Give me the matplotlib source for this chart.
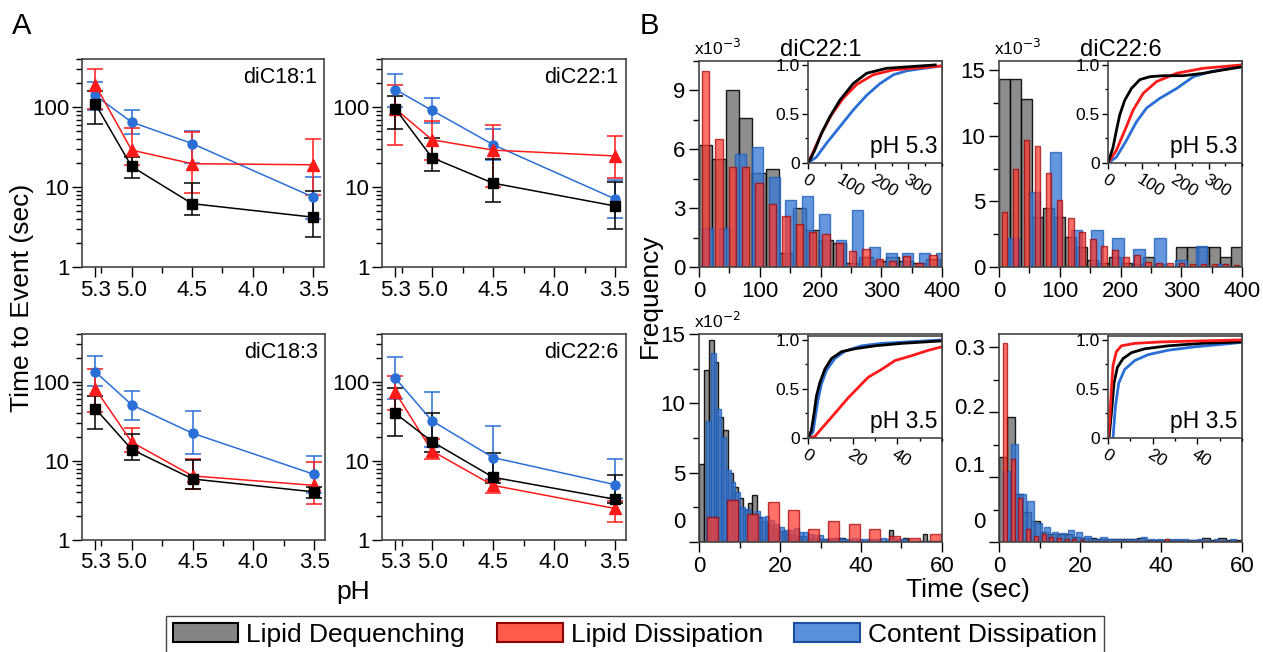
import numpy as np
import matplotlib
matplotlib.use('Agg')
import matplotlib.pyplot as plt
import matplotlib.transforms as mtransforms
from matplotlib.ticker import MultipleLocator, FixedLocator, LogLocator, NullFormatter
from matplotlib.patches import Patch

plt.rcParams['font.family'] = ['Liberation Sans', 'DejaVu Sans']
plt.rcParams['axes.edgecolor'] = '#444444'
plt.rcParams['axes.linewidth'] = 1.2

# ---------------- panel A data (time to event, sec) ----------------
ph = [5.3, 5.0, 4.5, 3.5]

c181_deq = [110, 18.1, 6.2, 4.2]
c181_deq_lo = [62, 12.9, 4.5, 2.4]
c181_deq_hi = [160, 23.5, 11.2, 8.9]
c181_dis = [190, 29, 19.6, 19]
c181_dis_lo = [95, 18.7, 8.4, 7.9]
c181_dis_hi = [300, 55, 49, 40]
c181_con = [140, 65, 35, 7.5]
c181_con_lo = [91, 45.6, 20, 4.0]
c181_con_hi = [205, 91, 50, 13.3]

c221_deq = [95, 23.3, 11.2, 5.8]
c221_deq_lo = [54, 15.8, 6.5, 3.0]
c221_deq_hi = [136, 41, 22.6, 11.6]
c221_dis = [95, 39, 29, 24.5]
c221_dis_lo = [34, 22, 10, 12.9]
c221_dis_hi = [190, 67, 60, 43.6]
c221_con = [166, 91, 34, 7.1]
c221_con_lo = [100, 63, 22, 4.1]
c221_con_hi = [260, 130, 54, 12.2]

c183_deq = [45.6, 13.9, 5.9, 4.05]
c183_deq_lo = [25, 10.3, 4.4, 3.4]
c183_deq_hi = [66, 22, 10.3, 4.7]
c183_dis = [81, 17.2, 6.45, 4.9]
c183_dis_lo = [41.7, 13, 4.4, 2.84]
c183_dis_hi = [144, 26, 10.5, 9.6]
c183_con = [133, 51, 22.3, 6.75]
c183_con_lo = [88, 32.6, 12.2, 3.9]
c183_con_hi = [209, 76, 42.7, 11.6]

c226_deq = [39.7, 17.5, 6.2, 3.27]
c226_deq_lo = [20.7, 13, 5.2, 2.9]
c226_deq_hi = [84, 40, 12.6, 6.6]
c226_dis = [73, 13.3, 4.9, 2.5]
c226_dis_lo = [43.6, 10.6, 3.9, 1.67]
c226_dis_hi = [118, 18.8, 5.8, 3.15]
c226_con = [110, 32, 11, 5]
c226_con_lo = [60, 14.9, 5.9, 3.4]
c226_con_hi = [203, 73, 27.4, 10.6]

# ---------------- panel B data: histograms (bin start, bin width, heights) ----------------
# diC22:1 pH 5.3 (x10^-3)
h221_53_deq = [6.2, 5.5, 9.0, 7.6, 4.8, 5.0, 0.7, 3.0, 1.9, 1.4, 1.2, 0.2, 0.5, 0.3, 0.5, 0.3, 0.2, 0.4]
h221_53_dis = [10.0, 6.5, 5.1, 5.1, 4.3, 3.2, 2.6, 2.2, 1.8, 1.7, 1.2, 0.8, 0.9, 0.4, 0.3, 0.55, 0.2, 0.6]
h221_53_con = [2.0, 2.0, 5.75, 6.1, 4.6, 3.4, 3.6, 2.7, 1.4, 2.9, 1.0, 0.7, 0.7, 0.7, 0.7]
# diC22:6 pH 5.3 (x10^-3)
h226_53_deq = [14.3, 14.3, 12.8, 3.8, 4.5, 3.8, 2.3, 1.5, 0.5, 0.3, 0.8, 0.3, 0.2, 0.8, 0.2, 0.0,
               1.5, 1.5, 1.5, 1.5, 0.8, 1.5]
h226_53_dis = [4.2, 7.5, 9.7, 9.25, 7.2, 5.1, 3.7, 2.7, 2.1, 1.6, 1.3, 0.8, 0.9, 0.4, 0.3, 0.3,
               0.3, 0.25, 0.25, 0.2, 0.2, 0.15]
h226_53_con = [2.2, 5.75, 8.8, 2.8, 2.8, 2.2, 1.4, 2.2, 0.55, 1.6, 0.2]
# diC22:1 pH 3.5 (x10^-2)
h221_35_deq = [5.6, 12.4, 14.6, 13.0, 9.0, 8.1, 5.0, 4.0, 3.2, 2.3, 2.8, 3.4, 1.8, 1.5, 1.2, 1.0,
               0.8, 0.8, 0.6, 0.5, 0.4, 0.4, 0.3, 0.3, 0.2, 0.2, 0.2, 0.2, 0.3, 0.3, 0.1, 0.1,
               0.1, 0.1, 0.1, 0.1, 0.1, 0.1, 0.1, 0.9, 0.1, 0.0, 0.3, 0.1, 0.1, 0.1, 0.6, 0.1,
               0.1, 0.1]
h221_35_dis = [1.8, 3.0, 2.05, 2.9, 2.3, 0.96, 1.5, 1.28, 0.96, 0.4, 0.3, 0.6]
h221_35_con = [0.0, 8.7, 13.6, 9.6, 7.6, 5.2, 4.3, 3.6, 2.5, 2.4, 2.0, 2.2, 1.8, 1.9, 1.6, 1.3,
               1.1, 0.85, 0.9, 1.0, 0.7, 0.7, 0.6, 0.5, 0.5, 0.25, 0.3, 0.3, 0.3, 0.25, 0.25,
               0.3, 0.25, 0.2, 0.25, 0.2, 0.2, 0.3, 0.2, 0.3, 0.2, 0.2, 0.1, 0.1, 0.1, 0.1,
               0.1, 0.1, 0.1]
# diC22:6 pH 3.5
h226_35_deq = [0.131, 0.193, 0.074, 0.046, 0.033, 0.015, 0.012, 0.012, 0.012, 0.008, 0.006,
               0.006, 0.004, 0.004, 0.004, 0.004, 0.004, 0.006, 0.003, 0.003, 0.003, 0.003,
               0.003, 0.003, 0.003, 0.006, 0.003, 0.006, 0.003, 0.003]
h226_35_dis = [0.306, 0.128, 0.067, 0.02, 0.01, 0.012, 0.008, 0.006, 0.005, 0.004, 0.003, 0.002,
               0.002, 0.002, 0.002, 0.002, 0.002, 0.002, 0.002, 0.002, 0.002, 0.004, 0.002,
               0.002, 0.002, 0.002, 0.002, 0.002, 0.002, 0.002, 0.002]
h226_35_con = [0.11, 0.151, 0.074, 0.063, 0.03, 0.023, 0.015, 0.014, 0.018, 0.016, 0.01, 0.005,
               0.008, 0.005, 0.005, 0.005, 0.004, 0.008, 0.004, 0.004, 0.004, 0.004, 0.004,
               0.003, 0.004, 0.003, 0.004, 0.003, 0.004]

# ---------------- cumulative distributions for the insets ----------------
cdf221_53_deq_t = [0, 10, 20, 40, 65, 95, 135, 175, 235, 295, 380]
cdf221_53_deq_f = [0, 0.06, 0.13, 0.30, 0.47, 0.64, 0.81, 0.915, 0.966, 0.98, 1.0]
cdf221_53_dis_t = [0, 15, 40, 70, 105, 145, 195, 255, 330, 400]
cdf221_53_dis_f = [0, 0.11, 0.30, 0.49, 0.66, 0.80, 0.90, 0.95, 0.97, 0.99]
cdf221_53_con_t = [0, 25, 55, 95, 135, 175, 215, 255, 295, 355, 400]
cdf221_53_con_f = [0, 0.06, 0.20, 0.37, 0.54, 0.69, 0.81, 0.90, 0.94, 0.97, 0.99]

cdf226_53_deq_t = [0, 15, 25, 35, 50, 70, 95, 125, 165, 225, 285, 345, 400]
cdf226_53_deq_f = [0, 0.16, 0.33, 0.49, 0.64, 0.76, 0.85, 0.88, 0.89, 0.89, 0.915, 0.95, 0.98]
cdf226_53_dis_t = [0, 25, 50, 75, 105, 145, 205, 285, 400]
cdf226_53_dis_f = [0, 0.13, 0.33, 0.54, 0.71, 0.83, 0.915, 0.966, 1.0]
cdf226_53_con_t = [0, 25, 55, 85, 115, 155, 205, 255, 305, 355, 400]
cdf226_53_con_f = [0, 0.06, 0.23, 0.42, 0.56, 0.66, 0.76, 0.88, 0.93, 0.96, 1.0]

cdf221_35_deq_t = [0, 1.5, 2.7, 3.75, 5.25, 7.5, 10.5, 15, 21, 30, 42, 60]
cdf221_35_deq_f = [0, 0.077, 0.25, 0.425, 0.56, 0.70, 0.81, 0.88, 0.91, 0.94, 0.965, 0.99]
cdf221_35_dis_t = [0, 3, 6, 12, 18, 24, 27, 33, 39, 46.5, 54, 60]
cdf221_35_dis_f = [0, 0.014, 0.094, 0.25, 0.41, 0.55, 0.62, 0.70, 0.79, 0.84, 0.895, 0.93]
cdf221_35_con_t = [0, 2.25, 3.3, 4.5, 6, 8.25, 12, 16.5, 24, 33, 60]
cdf221_35_con_f = [0, 0.06, 0.22, 0.39, 0.55, 0.69, 0.81, 0.885, 0.94, 0.965, 1.0]

cdf226_35_deq_t = [0.45, 1.5, 2.7, 4.2, 6.75, 10.5, 16.5, 27, 42, 60]
cdf226_35_deq_f = [0, 0.25, 0.56, 0.72, 0.81, 0.87, 0.91, 0.94, 0.965, 0.98]
cdf226_35_dis_t = [0, 0.75, 1.5, 2.25, 3.75, 6, 12, 24, 60]
cdf226_35_dis_f = [0, 0.18, 0.49, 0.74, 0.88, 0.94, 0.965, 0.98, 1.0]
cdf226_35_con_t = [2.25, 3.3, 4.8, 7.5, 12, 18, 27, 39, 51, 60]
cdf226_35_con_f = [0, 0.32, 0.56, 0.70, 0.79, 0.85, 0.895, 0.93, 0.955, 0.975]

RED = '#ff1a1a'
BLUE = '#2a6fd6'
W, H = 1263, 652

fig = plt.figure(figsize=(W / 100, H / 100), dpi=100)


def rect(left, top, right, bottom):
    return [left / W, 1 - bottom / H, (right - left) / W, (bottom - top) / H]


def panel_a(r, name, deq, dis, con):
    ax = fig.add_axes(r)
    series = [(con, BLUE, 'o', 6.5), (dis, RED, '^', 8), (deq, 'black', 's', 6.5)]
    for (v, lo, hi), col, mk, ms in series:
        v = np.array(v, float)
        err = [v - np.array(lo), np.array(hi) - v]
        ax.errorbar(ph, v, yerr=err, color=col, marker=mk, ms=ms, lw=1.1,
                    elinewidth=1.1, capsize=5.5, capthick=1.1)
    ax.set_yscale('log')
    ax.set_ylim(1, 400)
    ax.set_xlim(5.41, 3.41)
    ax.yaxis.set_major_locator(FixedLocator([1, 10, 100]))
    ax.set_yticklabels(['1', '10', '100'])
    ax.yaxis.set_minor_locator(LogLocator(base=10, subs=np.arange(2, 10)))
    ax.yaxis.set_minor_formatter(NullFormatter())
    ax.set_xticks([5.3, 5.0, 4.5, 4.0, 3.5])
    ax.set_xticklabels(['5.3', '5.0', '4.5', '4.0', '3.5'])
    ax.xaxis.set_minor_locator(MultipleLocator(0.25))
    ax.tick_params(which='major', direction='out', length=7, width=1, labelsize=16, pad=2)
    ax.tick_params(which='minor', direction='out', length=4, width=1)
    ax.text(0.97, 0.96, name, transform=ax.transAxes, ha='right', va='top', fontsize=15.5)
    return ax


panel_a(rect(82, 59, 324, 267), 'diC18:1',
        (c181_deq, c181_deq_lo, c181_deq_hi), (c181_dis, c181_dis_lo, c181_dis_hi),
        (c181_con, c181_con_lo, c181_con_hi))
panel_a(rect(382, 59, 626, 267), 'diC22:1',
        (c221_deq, c221_deq_lo, c221_deq_hi), (c221_dis, c221_dis_lo, c221_dis_hi),
        (c221_con, c221_con_lo, c221_con_hi))
panel_a(rect(82, 334, 325, 540), 'diC18:3',
        (c183_deq, c183_deq_lo, c183_deq_hi), (c183_dis, c183_dis_lo, c183_dis_hi),
        (c183_con, c183_con_lo, c183_con_hi))
panel_a(rect(382, 334, 626, 540), 'diC22:6',
        (c226_deq, c226_deq_lo, c226_deq_hi), (c226_dis, c226_dis_lo, c226_dis_hi),
        (c226_con, c226_con_lo, c226_con_hi))

GRAY_STYLE = dict(facecolor='#7d7d7d', edgecolor='black', alpha=0.88, linewidth=1.0)
RED_STYLE = dict(facecolor='#ff3a2e', edgecolor='#a00000', alpha=0.72, linewidth=1.0)
BLUE_STYLE = dict(facecolor='#3a7ad6', edgecolor='#1d5cb8', alpha=0.78, linewidth=1.0)


def bars(ax, start, width, heights, barw, style):
    centers = start + width * (np.arange(len(heights)) + 0.5)
    ax.bar(centers, heights, width=barw, align='center', **style)


def hist_panel(r, hists, ylim, ymaj, ymin, xlim, xmaj, xmin, exp, title=None, label_shift=None):
    ax = fig.add_axes(r)
    for start, width, heights, barw, style in hists:
        bars(ax, start, width, heights, barw, style)
    ax.set_xlim(*xlim)
    ax.set_ylim(*ylim)
    ax.set_xticks(xmaj)
    ax.set_xticklabels([str(v) for v in xmaj])
    ax.xaxis.set_minor_locator(MultipleLocator(xmin))
    ax.set_yticks(ymaj[0])
    ax.set_yticklabels(ymaj[1])
    ax.yaxis.set_minor_locator(MultipleLocator(ymin))
    ax.tick_params(which='major', direction='out', length=7, width=1, labelsize=16, pad=3)
    ax.tick_params(which='minor', direction='out', length=4, width=1)
    ax.text(-0.02, 1.015, exp, transform=ax.transAxes, ha='left', va='bottom', fontsize=12.5)
    if title:
        ax.set_title(title, fontsize=17, pad=3)
    if label_shift:
        for lab, dy in zip(ax.get_yticklabels(), label_shift):
            lab.set_transform(lab.get_transform() +
                              mtransforms.ScaledTranslation(0, dy / 100, fig.dpi_scale_trans))
    return ax


def inset(r, curves, xlim, xmaj, xmin, text):
    ax = fig.add_axes(r)
    ax.set_facecolor('white')
    for t, f, col in curves:
        ax.plot(t, f, color=col, lw=2.0)
    ax.set_xlim(*xlim)
    ax.set_ylim(0, 1.04)
    ax.set_yticks([0, 0.5, 1.0])
    ax.set_yticklabels(['0', '0.5', '1.0'])
    ax.yaxis.set_minor_locator(MultipleLocator(0.25))
    ax.set_xticks(xmaj)
    ax.set_xticklabels([str(v) for v in xmaj])
    ax.xaxis.set_minor_locator(MultipleLocator(xmin))
    ax.tick_params(which='major', direction='out', length=4, width=1, labelsize=12.5, pad=2)
    ax.tick_params(which='minor', direction='out', length=2.5, width=1)
    for lab in ax.get_xticklabels():
        lab.set_rotation(-32)
        lab.set_rotation_mode('anchor')
        lab.set_ha('left')
        lab.set_va('top')
    ax.text(0.97, 0.05, text, transform=ax.transAxes, ha='right', va='bottom', fontsize=16.5)
    return ax


# top-left B: diC22:1 pH 5.3
hist_panel(rect(699, 61, 942, 267),
           [(0, 22.0, h221_53_deq, 22.0, GRAY_STYLE),
            (0, 27.5, h221_53_con, 18.0, BLUE_STYLE),
            (0, 22.0, h221_53_dis, 12.0, RED_STYLE)],
           (0, 10.5), ([0, 3, 6, 9], ['0', '3', '6', '9']), 1.5,
           (0, 400), [0, 100, 200, 300, 400], 50, 'x10$^{-3}$', title='diC22:1')
inset(rect(808, 61, 942, 163),
      [(cdf221_53_con_t, cdf221_53_con_f, BLUE), (cdf221_53_dis_t, cdf221_53_dis_f, RED),
       (cdf221_53_deq_t, cdf221_53_deq_f, 'black')],
      (0, 400), [0, 100, 200, 300], 50, 'pH 5.3')

# top-right B: diC22:6 pH 5.3
hist_panel(rect(999, 61, 1242, 267),
           [(0, 400 / 22, h226_53_deq, 400 / 22, GRAY_STYLE),
            (6.8, 34.4, h226_53_con, 19.0, BLUE_STYLE),
            (0, 400 / 22, h226_53_dis, 9.0, RED_STYLE)],
           (0, 15.7), ([0, 5, 10, 15], ['0', '5', '10', '15']), 2.5,
           (0, 400), [0, 100, 200, 300, 400], 50, 'x10$^{-3}$', title='diC22:6')
inset(rect(1108, 61, 1242, 163),
      [(cdf226_53_con_t, cdf226_53_con_f, BLUE), (cdf226_53_dis_t, cdf226_53_dis_f, RED),
       (cdf226_53_deq_t, cdf226_53_deq_f, 'black')],
      (0, 400), [0, 100, 200, 300], 50, 'pH 5.3')

# bottom-left B: diC22:1 pH 3.5
hist_panel(rect(699, 334, 942, 542),
           [(0, 1.2, h221_35_deq, 1.2, GRAY_STYLE),
            (0.6, 1.2, h221_35_con, 1.2, BLUE_STYLE),
            (0.8, 5.0, h221_35_dis, 2.7, RED_STYLE)],
           (0, 15.0), ([0, 5, 10, 15], ['0', '5', '10', '15']), 2.5,
           (0, 60), [0, 20, 40, 60], 10, 'x10$^{-2}$', label_shift=[22, 0, 0, 0])
inset(rect(808, 336, 942, 438),
      [(cdf221_35_con_t, cdf221_35_con_f, BLUE), (cdf221_35_dis_t, cdf221_35_dis_f, RED),
       (cdf221_35_deq_t, cdf221_35_deq_f, 'black')],
      (0, 60), [0, 20, 40], 10, 'pH 3.5')

# bottom-right B: diC22:6 pH 3.5
hist_panel(rect(999, 334, 1242, 542),
           [(0, 2.0, h226_35_deq, 2.0, GRAY_STYLE),
            (0.8, 2.0, h226_35_con, 1.6, BLUE_STYLE),
            (0.55, 1.9, h226_35_dis, 1.0, RED_STYLE)],
           (0, 0.32), ([0, 0.1, 0.2, 0.3], ['0', '0.1', '0.2', '0.3']), 0.05,
           (0, 60), [0, 20, 40, 60], 10, '', label_shift=[22, 13, 6, 0])
inset(rect(1108, 336, 1242, 438),
      [(cdf226_35_con_t, cdf226_35_con_f, BLUE), (cdf226_35_deq_t, cdf226_35_deq_f, 'black'),
       (cdf226_35_dis_t, cdf226_35_dis_f, RED)],
      (0, 60), [0, 20, 40], 10, 'pH 3.5')

# labels
fig.text(12 / W, 1 - 12 / H, 'A', fontsize=21, ha='left', va='top')
fig.text(640 / W, 1 - 12 / H, 'B', fontsize=21, ha='left', va='top')
fig.text(22 / W, 1 - 298 / H, 'Time to Event (sec)', rotation=90, fontsize=19,
         ha='center', va='center')
fig.text(353 / W, 1 - 592 / H, 'pH', fontsize=19, ha='center', va='center')
fig.text(650 / W, 1 - 296 / H, 'Frequency', rotation=90, fontsize=19, ha='center', va='center')
fig.text(968 / W, 1 - 590 / H, 'Time (sec)', fontsize=19, ha='center', va='center')

handles = [Patch(facecolor='#858585', edgecolor='black', linewidth=1.5),
           Patch(facecolor='#ff5a4a', edgecolor='#8b0000', linewidth=1.5),
           Patch(facecolor='#5b90dc', edgecolor='#1d4fa0', linewidth=1.5)]
labels = ['Lipid Dequenching', 'Lipid Dissipation', 'Content Dissipation']
fig.legend(handles, labels, loc='upper center', bbox_to_anchor=(635 / W, 1 - 616 / H), ncol=3,
           fontsize=19, frameon=True, fancybox=False, edgecolor='#444444', framealpha=1,
           handlelength=2.5, handleheight=0.75, handletextpad=0.3, columnspacing=1.2,
           borderpad=0.25, borderaxespad=0)

fig.savefig('out.png', dpi=100)
